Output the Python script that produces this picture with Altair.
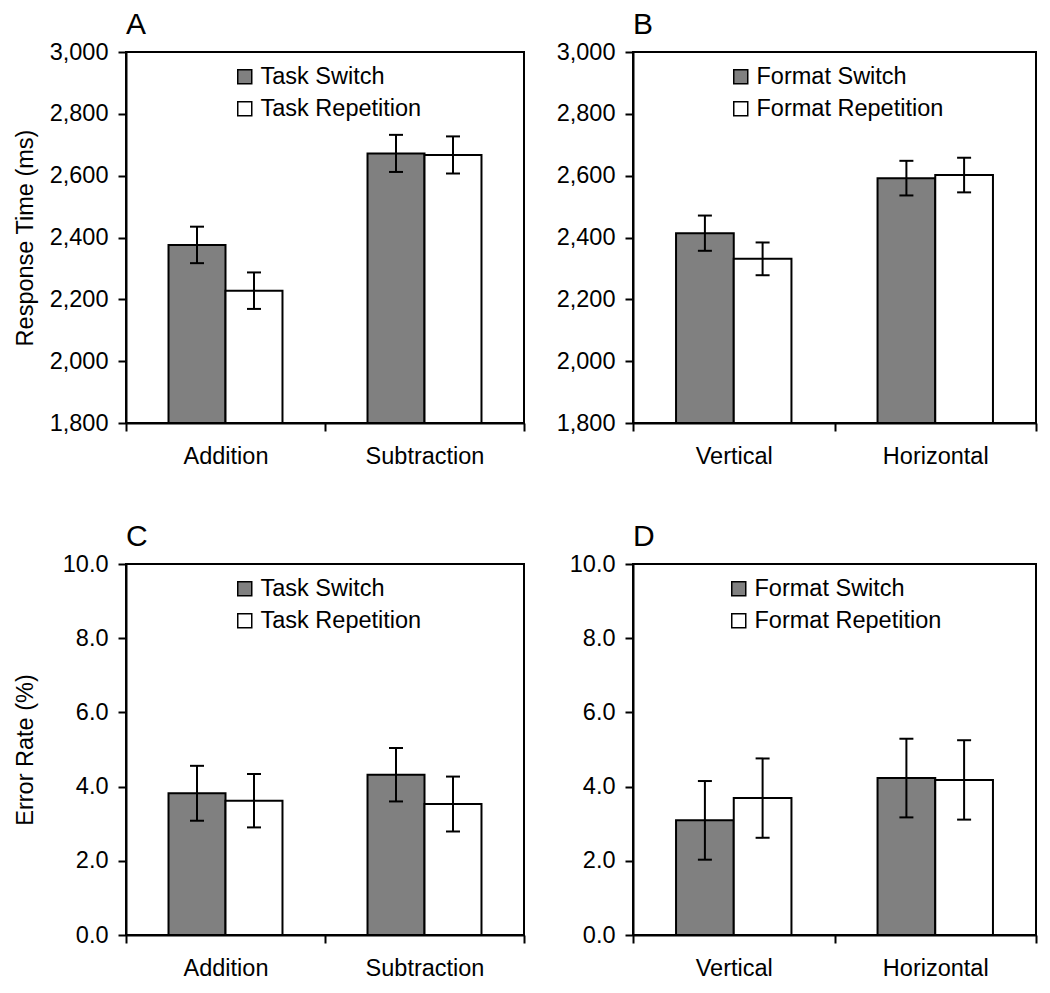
import altair as alt
import pandas as pd

FONT = "Liberation Sans"
FS = 23.5

# ---------------- data ----------------
# Panel A: response time, task
a_cats = ["Addition", "Subtraction"]
a_series = ["Task Switch", "Task Repetition"]
a_switch = [2376, 2672]
a_switch_err = [59, 60]
a_rep = [2228, 2667]
a_rep_err = [59, 60]

# Panel B: response time, format
b_cats = ["Vertical", "Horizontal"]
b_series = ["Format Switch", "Format Repetition"]
b_switch = [2414, 2592]
b_switch_err = [57, 56]
b_rep = [2331, 2602]
b_rep_err = [53, 56]

# Panel C: error rate, task
c_cats = ["Addition", "Subtraction"]
c_series = ["Task Switch", "Task Repetition"]
c_switch = [3.82, 4.32]
c_switch_err = [0.74, 0.72]
c_rep = [3.62, 3.53]
c_rep_err = [0.72, 0.74]

# Panel D: error rate, format
d_cats = ["Vertical", "Horizontal"]
d_series = ["Format Switch", "Format Repetition"]
d_switch = [3.09, 4.23]
d_switch_err = [1.06, 1.06]
d_rep = [3.69, 4.18]
d_rep_err = [1.07, 1.07]

rt_ticks = [1800, 2000, 2200, 2400, 2600, 2800, 3000]
er_ticks = [0, 2, 4, 6, 8, 10]

FILLS = ["#808080", "#ffffff"]


def make_df(cats, series, sw, sw_err, rp, rp_err):
    rows = []
    for i, c in enumerate(cats):
        rows.append(dict(cat=c, series=series[0], value=sw[i],
                         lo=sw[i] - sw_err[i], hi=sw[i] + sw_err[i]))
        rows.append(dict(cat=c, series=series[1], value=rp[i],
                         lo=rp[i] - rp_err[i], hi=rp[i] + rp_err[i]))
    return pd.DataFrame(rows)


def panel(letter, cats, series, sw, sw_err, rp, rp_err, domain, ticks, fmt,
          ytitle, width, height, lx, ly):
    df = make_df(cats, series, sw, sw_err, rp, rp_err)
    base = alt.Chart(df)
    x_enc = alt.X("cat:N", sort=cats,
                  scale=alt.Scale(domain=cats, paddingInner=0, paddingOuter=0),
                  axis=alt.Axis(title=None, labelAngle=0, tickBand="extent",
                                labelPadding=13))
    xo_enc = alt.XOffset("series:N", sort=series,
                         scale=alt.Scale(domain=series, paddingInner=0,
                                         paddingOuter=0.746))
    y_scale = alt.Scale(domain=domain, nice=False, zero=False)
    y_axis = alt.Axis(values=ticks, format=fmt, title=ytitle, titleX=-94,
                      titleBaseline="alphabetic")

    bars = base.mark_bar(stroke="black", strokeWidth=2, opacity=1).encode(
        x=x_enc,
        xOffset=xo_enc,
        y=alt.Y("value:Q", scale=y_scale, axis=y_axis),
        y2=alt.Y2(datum=domain[0]),
        color=alt.Color(
            "series:N", sort=series,
            scale=alt.Scale(domain=series, range=FILLS),
            legend=alt.Legend(title=None, orient="none", legendX=lx,
                              legendY=ly, symbolType="square",
                              symbolSize=196, symbolStrokeColor="black",
                              symbolStrokeWidth=1.5, symbolOpacity=1,
                              labelFontSize=FS, labelFont=FONT,
                              labelColor="black", rowPadding=7,
                              labelOffset=4, labelLimit=400)),
    )
    rule = base.mark_rule(color="black", strokeWidth=2).encode(
        x=x_enc, xOffset=xo_enc,
        y=alt.Y("lo:Q", scale=y_scale, axis=y_axis),
        y2="hi:Q",
    )
    cap_lo = base.mark_tick(color="black", thickness=2, size=14,
                            opacity=1).encode(
        x=x_enc, xOffset=xo_enc,
        y=alt.Y("lo:Q", scale=y_scale, axis=y_axis),
    )
    cap_hi = base.mark_tick(color="black", thickness=2, size=14,
                            opacity=1).encode(
        x=x_enc, xOffset=xo_enc,
        y=alt.Y("hi:Q", scale=y_scale, axis=y_axis),
    )
    return alt.layer(bars, rule, cap_lo, cap_hi).properties(
        width=width, height=height,
        title=alt.TitleParams(letter, anchor="start", frame="group",
                              fontSize=30, fontWeight="normal", font=FONT,
                              color="black", offset=0),
    )


pA = panel("A", a_cats, a_series, a_switch, a_switch_err, a_rep, a_rep_err,
           [1800, 3000], rt_ticks, ",.0f", "Response Time (ms)", 398, 371,
           107, 13)
pB = panel("B", b_cats, b_series, b_switch, b_switch_err, b_rep, b_rep_err,
           [1800, 3000], rt_ticks, ",.0f", None, 403, 371, 96, 13)
pC = panel("C", c_cats, c_series, c_switch, c_switch_err, c_rep, c_rep_err,
           [0, 10], er_ticks, ".1f", "Error Rate (%)", 398, 371, 107, 13)
pD = panel("D", d_cats, d_series, d_switch, d_switch_err, d_rep, d_rep_err,
           [0, 10], er_ticks, ".1f", None, 403, 371, 94, 13)

chart = alt.concat(
    pA, pB, pC, pD, columns=2,
    spacing=alt.RowColnumber(row=141, column=109),
).properties(
    bounds="flush",
    padding={"left": 4, "top": 1, "right": 0, "bottom": 0},
).resolve_scale(
    x="independent", y="independent", color="independent",
    xOffset="independent",
).resolve_legend(color="independent").configure(
    font=FONT, background="white",
).configure_view(
    stroke="black", strokeWidth=2,
).configure_axis(
    domainColor="black", domainWidth=2, tickColor="black", tickWidth=2,
    tickSize=8, labelColor="black", labelFont=FONT, labelFontSize=FS,
    titleFont=FONT, titleFontSize=FS, titleFontWeight="normal",
    titleColor="black", grid=False, labelPadding=10,
)

chart.save("out.html", embed_options={"renderer": "svg", "actions": False})
